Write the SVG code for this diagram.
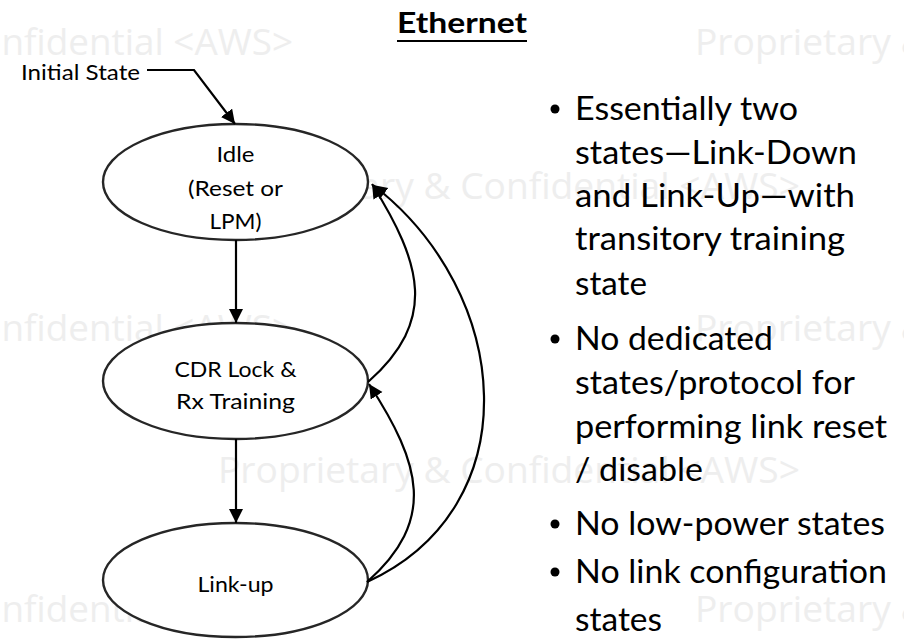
<svg xmlns="http://www.w3.org/2000/svg" width="904" height="639" viewBox="0 0 904 639">
  <style>
    .wm { font-family: "Open Sans", "Liberation Sans", sans-serif; font-size: 36px; fill: #eeeeee; }
    .node { fill: #ffffff; stroke: #262626; stroke-width: 2.4; }
    .lbl { font-family: Lato, "Liberation Sans", sans-serif; font-size: 21px; fill: #000000; text-anchor: middle; }
    .edge { fill: none; stroke: #000000; stroke-width: 2.2; }
    .title { font-family: Lato, "Liberation Sans", sans-serif; font-size: 28px; font-weight: bold; fill: #000000; }
    .bul { font-family: Lato, "Liberation Sans", sans-serif; font-size: 33px; fill: #000000; }
  </style>
  <defs>
    <marker id="ah" markerUnits="userSpaceOnUse" markerWidth="16" markerHeight="16" refX="14" refY="7" orient="auto">
      <path d="M0,0 L14,7 L0,14 z" fill="#000000"/>
    </marker>
  </defs>

  <rect width="904" height="639" fill="#ffffff"/>

  <!-- background watermark rows -->
  <g id="watermark">
    <text class="wm" x="-44" y="55" textLength="337" lengthAdjust="spacingAndGlyphs">Confidential &lt;AWS&gt;</text>
    <text class="wm" x="695" y="55" textLength="582" lengthAdjust="spacingAndGlyphs">Proprietary &amp; Confidential &lt;AWS&gt;</text>
    <text class="wm" x="218" y="199" textLength="582" lengthAdjust="spacingAndGlyphs">Proprietary &amp; Confidential &lt;AWS&gt;</text>
    <text class="wm" x="-44" y="341" textLength="337" lengthAdjust="spacingAndGlyphs">Confidential &lt;AWS&gt;</text>
    <text class="wm" x="695" y="341" textLength="582" lengthAdjust="spacingAndGlyphs">Proprietary &amp; Confidential &lt;AWS&gt;</text>
    <text class="wm" x="218" y="483" textLength="582" lengthAdjust="spacingAndGlyphs">Proprietary &amp; Confidential &lt;AWS&gt;</text>
    <text class="wm" x="-44" y="622" textLength="337" lengthAdjust="spacingAndGlyphs">Confidential &lt;AWS&gt;</text>
    <text class="wm" x="695" y="622" textLength="582" lengthAdjust="spacingAndGlyphs">Proprietary &amp; Confidential &lt;AWS&gt;</text>
  </g>

  <!-- heading -->
  <g id="heading">
    <text class="title" x="397" y="33" textLength="130" lengthAdjust="spacingAndGlyphs">Ethernet</text>
    <line x1="397" y1="41" x2="527" y2="41" stroke="#000000" stroke-width="2"/>
  </g>

  <!-- state nodes -->
  <g id="idle">
    <ellipse class="node" cx="235.5" cy="182" rx="132.5" ry="58"/>
    <text class="lbl" x="235.5" y="162" textLength="38" lengthAdjust="spacingAndGlyphs">Idle</text>
    <text class="lbl" x="235.5" y="196" textLength="95" lengthAdjust="spacingAndGlyphs">(Reset or</text>
    <text class="lbl" x="235.5" y="229" textLength="52" lengthAdjust="spacingAndGlyphs">LPM)</text>
  </g>
  <g id="cdr-training">
    <ellipse class="node" cx="235.5" cy="381" rx="132.5" ry="58"/>
    <text class="lbl" x="235.5" y="377" textLength="122" lengthAdjust="spacingAndGlyphs">CDR Lock &amp;</text>
    <text class="lbl" x="235.5" y="409" textLength="119" lengthAdjust="spacingAndGlyphs">Rx Training</text>
  </g>
  <g id="link-up">
    <ellipse class="node" cx="235.5" cy="580" rx="132.5" ry="57"/>
    <text class="lbl" x="235.5" y="592" textLength="76" lengthAdjust="spacingAndGlyphs">Link-up</text>
  </g>
  <g id="initial-state">
    <text class="lbl" x="80.5" y="80" textLength="119" lengthAdjust="spacingAndGlyphs">Initial State</text>
  </g>

  <!-- transitions -->
  <g id="connectors">
    <polyline class="edge" points="147,70 194,70 235,124" marker-end="url(#ah)"/>
    <line class="edge" x1="236" y1="240" x2="236" y2="323" marker-end="url(#ah)"/>
    <line class="edge" x1="236" y1="439" x2="236" y2="523" marker-end="url(#ah)"/>
    <path class="edge" d="M368,382 C438,320 422,264 372,184" marker-end="url(#ah)"/>
    <path class="edge" d="M367,582 C437,520 421,464 369,384" marker-end="url(#ah)"/>
    <path class="edge" d="M367,582 C531,507 513,293 373,185" marker-end="url(#ah)"/>
  </g>

  <!-- bullet list -->
  <g id="notes">
    <circle cx="555" cy="109" r="4.5"/>
    <circle cx="555" cy="339" r="4.5"/>
    <circle cx="555" cy="524" r="4.5"/>
    <circle cx="555" cy="572" r="4.5"/>
    <text class="bul" x="575" y="120" textLength="223" lengthAdjust="spacingAndGlyphs">Essentially two</text>
    <text class="bul" x="575" y="164" textLength="282" lengthAdjust="spacingAndGlyphs">states—Link-Down</text>
    <text class="bul" x="575" y="207" textLength="280" lengthAdjust="spacingAndGlyphs">and Link-Up—with</text>
    <text class="bul" x="575" y="250" textLength="270" lengthAdjust="spacingAndGlyphs">transitory training</text>
    <text class="bul" x="575" y="295" textLength="72" lengthAdjust="spacingAndGlyphs">state</text>
    <text class="bul" x="575" y="350" textLength="198" lengthAdjust="spacingAndGlyphs">No dedicated</text>
    <text class="bul" x="575" y="394" textLength="280" lengthAdjust="spacingAndGlyphs">states/protocol for</text>
    <text class="bul" x="575" y="438" textLength="312" lengthAdjust="spacingAndGlyphs">performing link reset</text>
    <text class="bul" x="575" y="481" textLength="128" lengthAdjust="spacingAndGlyphs">/ disable</text>
    <text class="bul" x="575" y="535" textLength="310" lengthAdjust="spacingAndGlyphs">No low-power states</text>
    <text class="bul" x="575" y="583" textLength="312" lengthAdjust="spacingAndGlyphs">No link configuration</text>
    <text class="bul" x="575" y="631" textLength="87" lengthAdjust="spacingAndGlyphs">states</text>
  </g>
</svg>
